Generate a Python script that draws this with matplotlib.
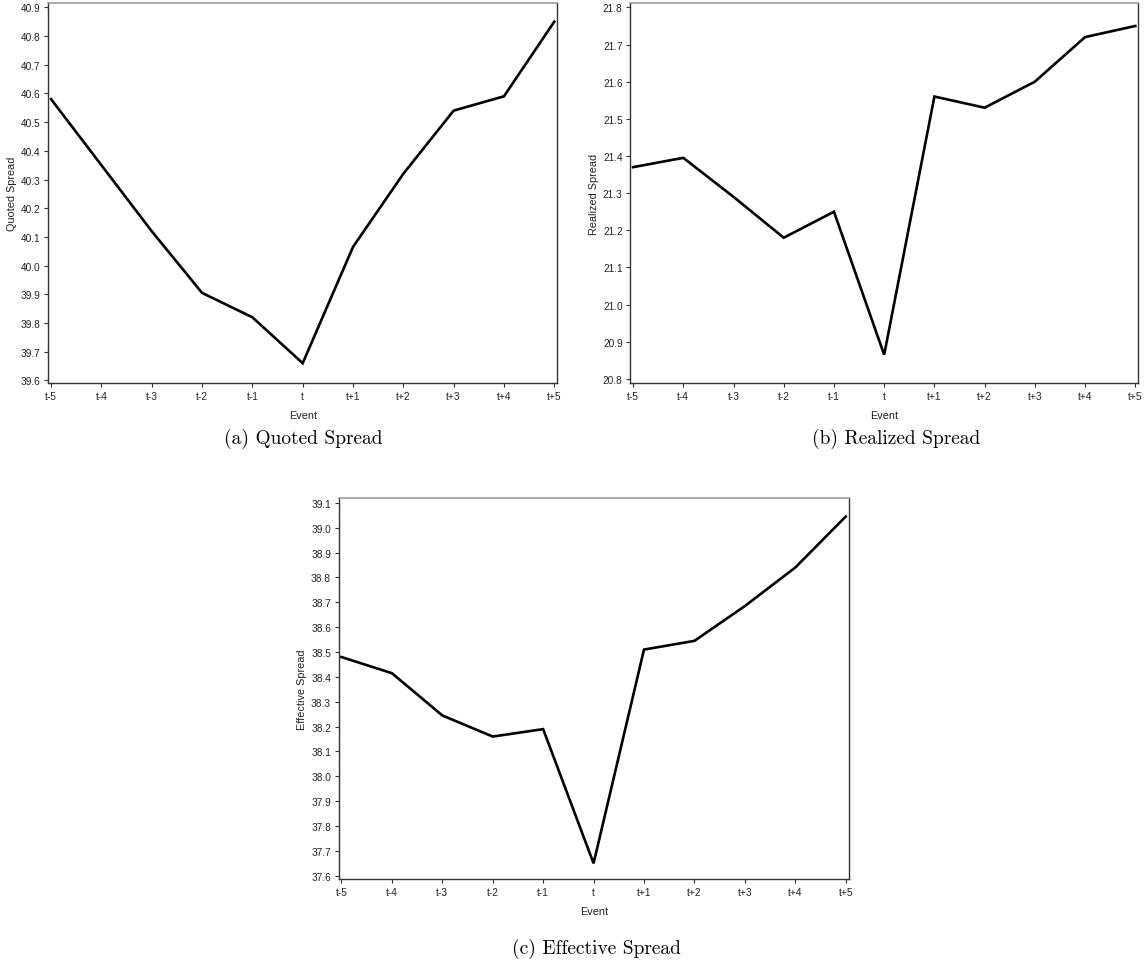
import matplotlib
matplotlib.use('Agg')
import matplotlib.pyplot as plt

# event window
events = ['t-5', 't-4', 't-3', 't-2', 't-1', 't', 't+1', 't+2', 't+3', 't+4', 't+5']

quoted = [40.58, 40.35, 40.12, 39.905, 39.82, 39.66, 40.065, 40.32, 40.54, 40.59, 40.85]
realized = [21.37, 21.395, 21.29, 21.18, 21.25, 20.865, 21.56, 21.53, 21.60, 21.72, 21.75]
effective = [38.48, 38.415, 38.245, 38.16, 38.19, 37.65, 38.51, 38.545, 38.685, 38.84, 39.045]

quoted_ticks = [39.6, 39.7, 39.8, 39.9, 40.0, 40.1, 40.2, 40.3, 40.4, 40.5, 40.6, 40.7, 40.8, 40.9]
realized_ticks = [20.8, 20.9, 21.0, 21.1, 21.2, 21.3, 21.4, 21.5, 21.6, 21.7, 21.8]
effective_ticks = [37.6, 37.7, 37.8, 37.9, 38.0, 38.1, 38.2, 38.3, 38.4, 38.5, 38.6, 38.7, 38.8, 38.9, 39.0, 39.1]

SANS = ['Liberation Sans', 'DejaVu Sans']
W, H = 1146, 970


def px_axes(fig, left, top, right, bottom):
    """axes placed by pixel box"""
    return fig.add_axes([left / W, (H - bottom) / H, (right - left) / W, (bottom - top) / H])


def draw_panel(ax, values, yticks, ylim, ylabel):
    x = list(range(len(events)))
    ax.plot(x, values, color='black', lw=1.9, solid_joinstyle='miter')
    ax.set_xlim(-0.055, len(events) - 1 + 0.06)
    ax.set_ylim(*ylim)
    ax.set_xticks(x)
    ax.set_xticklabels(events)
    ax.set_yticks(yticks)
    ax.set_yticklabels([f'{v:.1f}' for v in yticks])
    for lab in ax.get_xticklabels() + ax.get_yticklabels():
        lab.set_family(SANS)
        lab.set_fontsize(7.3)
        lab.set_color('#222222')
    ax.tick_params(direction='out', length=3, width=0.8, color='#333333', pad=2.5)
    for side in ['left', 'bottom', 'right']:
        ax.spines[side].set_color('#333333')
        ax.spines[side].set_linewidth(1.0)
    ax.spines['top'].set_color('#999999')
    ax.spines['top'].set_linewidth(1.2)
    ax.set_xlabel('Event', fontsize=7.8, family=SANS, color='#222222')
    ax.set_ylabel(ylabel, fontsize=7.8, family=SANS, color='#222222')
    ax.xaxis.set_label_coords(0.5, -0.072)
    ax.yaxis.set_label_coords(-0.062, 0.5)


fig = plt.figure(figsize=(W / 100, H / 100), dpi=100)
fig.patch.set_facecolor('white')

ax_a = px_axes(fig, 48.3, 4.3, 557.3, 384)
draw_panel(ax_a, quoted, quoted_ticks, (39.591, 40.914), 'Quoted Spread')

ax_b = px_axes(fig, 630.3, 4.3, 1138.3, 384)
draw_panel(ax_b, realized, realized_ticks, (20.789, 21.811), 'Realized Spread')

ax_c = px_axes(fig, 338.7, 498.7, 848.7, 880)
draw_panel(ax_c, effective, effective_ticks, (37.587, 39.121), 'Effective Spread')

# captions
fig.text(303 / W, 1 - 439 / H, '(a) Quoted Spread', ha='center', va='center',
         fontsize=14, family='cmr10')
fig.text(896 / W, 1 - 439 / H, '(b) Realized Spread', ha='center', va='center',
         fontsize=14, family='cmr10')
fig.text(596 / W, 1 - 949 / H, '(c) Effective Spread', ha='center', va='center',
         fontsize=14, family='cmr10')

fig.savefig('out.png', dpi=100, facecolor='white')
plt.close(fig)
